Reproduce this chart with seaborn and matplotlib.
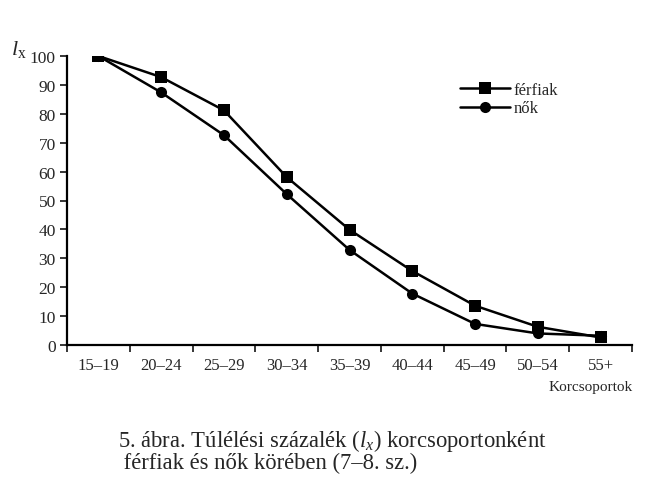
import numpy as np
import pandas as pd
import matplotlib
matplotlib.use("Agg")
import matplotlib.pyplot as plt
import seaborn as sns

age_groups = ["15–19", "20–24", "25–29", "30–34", "35–39", "40–44", "45–49", "50–54", "55+"]
men = [100, 92.7, 81.2, 58.1, 39.9, 25.6, 13.6, 6.3, 2.6]
women = [100, 87.4, 72.6, 52.2, 32.9, 17.8, 7.3, 4.0, 3.2]

sns.set_style("white")
plt.rcParams["font.family"] = ["Liberation Serif", "DejaVu Serif"]
plt.rcParams["mathtext.fontset"] = "custom"
plt.rcParams["mathtext.rm"] = "Liberation Serif"
plt.rcParams["mathtext.it"] = "Liberation Serif:italic"

df = pd.DataFrame({"kor": age_groups * 2,
                   "lx": men + women,
                   "nem": ["férfiak"] * len(men) + ["nők"] * len(women)})

fig = plt.figure(figsize=(6.5, 4.85), dpi=100)
ax = fig.add_axes([67 / 650, 1 - 346 / 485, 565 / 650, 289 / 485])

sns.lineplot(data=df, x="kor", y="lx", hue="nem", style="nem",
             markers={"férfiak": "s", "nők": "o"}, dashes=False,
             palette={"férfiak": "black", "nők": "black"},
             markersize=8, linewidth=1.8, markeredgewidth=0, sort=False, ax=ax)

ax.set_xlim(-0.5, len(age_groups) - 0.5)
ax.set_ylim(0, 100)
ax.set_yticks(np.arange(0, 101, 10))
ax.set_xticks(range(len(age_groups)))
ax.set_xticks(np.arange(-0.5, len(age_groups)), minor=True)
ax.set_xticklabels(age_groups)
ax.tick_params(axis="x", which="major", length=0, pad=9, labelsize=12)
ax.tick_params(axis="x", which="minor", length=5, width=1.3, direction="out", bottom=True)
ax.tick_params(axis="y", length=5, width=1.3, direction="out", left=True, pad=3, labelsize=12.5)
ax.set_xlabel("")
ax.set_ylabel("")
for side in ["top", "right"]:
    ax.spines[side].set_visible(False)
for side in ["left", "bottom"]:
    ax.spines[side].set_color("black")
    ax.spines[side].set_linewidth(1.6)

handles, labels = ax.get_legend_handles_labels()
ax.legend(handles, labels, frameon=False, fontsize=12, handlelength=3.0,
          handletextpad=0.2, labelspacing=0.15, loc="upper left",
          bbox_to_anchor=(445 / 650, 1 - 68 / 485), bbox_transform=fig.transFigure)

fig.text(19 / 650, 1 - 49 / 485, r"$l_{\mathrm{x}}$", fontsize=16, ha="center", va="center")
fig.text(633 / 650, 1 - 388 / 485, "Korcsoportok", fontsize=11, ha="right", va="center")
fig.text(118 / 650, 1 - 451 / 485,
         "5. ábra. Túlélési százalék ($l_x$) korcsoportonként\n férfiak és nők körében (7–8. sz.)",
         fontsize=16.3, ha="left", va="center", linespacing=0.95)

fig.savefig("out.png", dpi=100)
